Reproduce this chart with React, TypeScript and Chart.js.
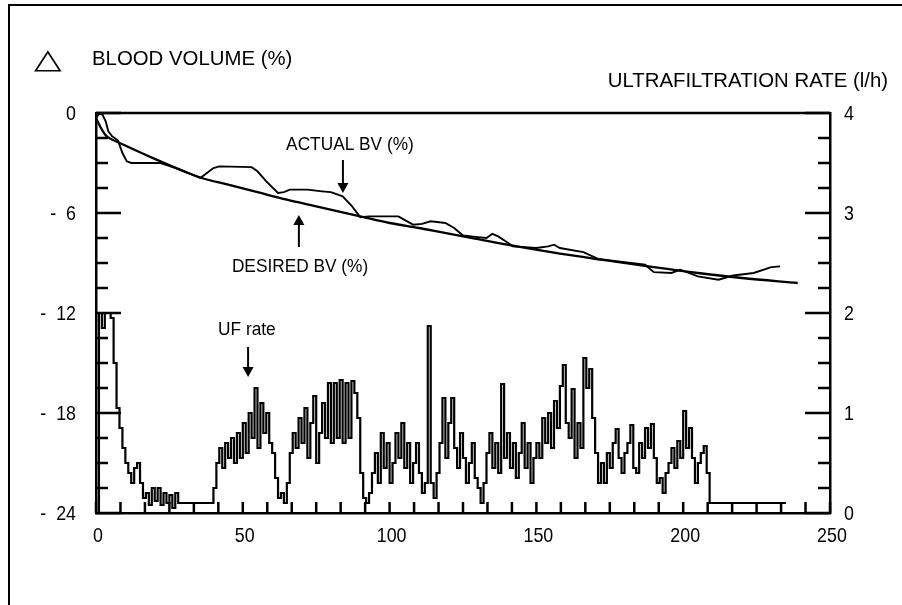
import React, { useEffect, useRef } from "react";
import { Chart, registerables } from "chart.js";

Chart.register(...registerables);

// ---------- data ----------
const desiredTime = [0, 2, 4, 10, 20, 30, 36, 45, 55, 65, 75, 90, 100, 110, 125, 140, 155, 172, 190, 205, 220, 239];
const desiredBV = [-0.3, -1.0, -1.45, -1.95, -2.75, -3.5, -3.9, -4.3, -4.75, -5.2, -5.6, -6.2, -6.6, -6.9, -7.4, -7.9, -8.35, -8.8, -9.25, -9.6, -9.9, -10.2];

const actualTime = [0, 1, 2.2, 3.3, 4.2, 5.5, 7.5, 9, 10.5, 12, 22, 28, 35.5, 37, 40, 42, 53, 55, 58, 62, 64, 66, 72, 77, 80, 84, 87, 90, 93, 103, 108, 111, 114, 119, 122, 125, 130, 133, 135, 137, 140, 142, 150, 154, 156, 158, 166, 171, 180, 187, 190, 196, 199, 205, 212, 217, 224, 230, 233];
const actualBV = [-0.3, -0.05, -0.1, -0.5, -1.1, -1.4, -1.65, -2.4, -2.9, -3.0, -3.0, -3.35, -3.9, -3.7, -3.3, -3.2, -3.25, -3.5, -4.1, -4.8, -4.75, -4.6, -4.6, -4.7, -4.75, -5.0, -5.55, -6.25, -6.2, -6.2, -6.7, -6.65, -6.5, -6.6, -6.9, -7.35, -7.45, -7.5, -7.25, -7.4, -7.75, -8.0, -8.1, -8.0, -7.9, -8.1, -8.35, -8.75, -8.95, -9.1, -9.55, -9.6, -9.4, -9.8, -10.0, -9.75, -9.6, -9.25, -9.2];

// UF rate (l/h), one sample per minute starting at minute 0
const ufRate = [
  0, 2.0, 1.85, 2.0, 2.0, 1.95, 1.5, 1.05, 0.85, 0.65,
  0.5, 0.4, 0.3, 0.45, 0.5, 0.3, 0.15, 0.2, 0.08, 0.25,
  0.12, 0.25, 0.08, 0.2, 0.1, 0.18, 0.05, 0.2, 0.1, 0.1,
  0.1, 0.1, 0.1, 0.1, 0.1, 0.1, 0.1, 0.1, 0.1, 0.1,
  0.25, 0.5, 0.65, 0.45, 0.7, 0.55, 0.75, 0.5, 0.8, 0.55,
  0.9, 0.6, 1.0, 0.75, 1.25, 0.65, 1.1, 0.8, 1.0, 0.7,
  0.6, 0.35, 0.15, 0.2, 0.1, 0.3, 0.6, 0.8, 0.65, 0.95,
  0.7, 1.05, 0.55, 0.9, 1.17, 0.5, 0.8, 1.1, 0.75, 1.3,
  0.7, 1.3, 0.75, 1.33, 0.7, 1.3, 0.75, 1.32, 1.2, 0.95,
  0.4, 0.15, 0.1, 0.2, 0.4, 0.6, 0.3, 0.8, 0.45, 0.7,
  0.3, 0.5, 0.8, 0.55, 0.9, 0.45, 0.7, 0.3, 0.5, 0.7,
  0.4, 0.2, 0.3, 1.87, 0.3, 0.15, 0.4, 0.7, 1.15, 0.55,
  0.9, 1.15, 0.65, 0.45, 0.8, 0.55, 0.3, 0.5, 0.7, 0.35,
  0.25, 0.1, 0.3, 0.6, 0.8, 0.45, 0.7, 0.4, 1.29, 0.55,
  0.8, 0.45, 0.7, 0.35, 0.6, 0.9, 0.45, 0.7, 0.3, 0.55,
  0.7, 0.55, 0.95, 0.7, 1.0, 0.65, 1.12, 0.85, 1.27, 1.48,
  0.9, 0.75, 1.24, 0.55, 0.9, 0.65, 1.55, 1.25, 1.44, 0.95,
  0.6, 0.3, 0.5, 0.3, 0.6, 0.45, 0.7, 0.84, 0.55, 0.4,
  0.6, 0.7, 0.88, 0.45, 0.4, 0.7, 0.55, 0.85, 0.65, 0.89,
  0.55, 0.3, 0.35, 0.2, 0.4, 0.5, 0.65, 0.45, 0.72, 0.55,
  1.02, 0.65, 0.85, 0.55, 0.3, 0.5, 0.6, 0.67, 0.4, 0.1,
  0.1, 0.1, 0.1, 0.1, 0.1, 0.1, 0.1, 0.1, 0.1, 0.1,
  0.1, 0.1, 0.1, 0.1, 0.1, 0.1, 0.1, 0.1, 0.1, 0.1,
  0.1, 0.1, 0.1, 0.1, 0.1, 0.1,
];

const xTickValues = [0, 50, 100, 150, 200, 250];
const leftTickValues = [0, -6, -12, -18, -24];
const rightTickValues = [0, 1, 2, 3, 4];

const leftTitle = "BLOOD VOLUME (%)";
const rightTitle = "ULTRAFILTRATION RATE (l/h)";

// annotation anchors (data coordinates)
const annotations = [
  { text: "ACTUAL BV (%)", axis: "y", tx: 86.5, ty: -1.92, ax: 84.1, from: -2.82, to: -4.8 },
  { text: "DESIRED BV (%)", axis: "y", tx: 69.5, ty: -9.24, ax: 69.1, from: -8.04, to: -6.12 },
  { text: "UF rate", axis: "y1", tx: 51.4, ty: 1.83, ax: 51.8, from: 1.66, to: 1.36 },
];

const FONT = "'Liberation Sans', Arial, sans-serif";

function condText(ctx: any, text: string, x: number, y: number, align: string, sx: number) {
  ctx.save();
  ctx.translate(x, y);
  ctx.scale(sx, 1);
  ctx.textAlign = align;
  ctx.fillText(text, 0, 0);
  ctx.restore();
}

const decorPlugin = {
  id: "decor",
  afterDatasetsDraw(chart: any) {
    const { ctx, chartArea, scales } = chart;
    const { left, right, top, bottom } = chartArea;
    ctx.save();
    ctx.strokeStyle = "#000";
    ctx.fillStyle = "#000";
    ctx.lineCap = "butt";

    // outer frame (top and left)
    ctx.lineWidth = 2;
    ctx.beginPath();
    ctx.moveTo(8, 5);
    ctx.lineTo(902, 5);
    ctx.moveTo(9, 5);
    ctx.lineTo(9, 605);
    ctx.stroke();

    // top border of plot
    ctx.lineWidth = 2.5;
    ctx.beginPath();
    ctx.moveTo(left, top);
    ctx.lineTo(right, top);
    ctx.stroke();

    // inward ticks
    ctx.lineWidth = 2.5;
    ctx.beginPath();
    const ys = scales.y;
    for (let i = 0; i <= 16; i++) {
      const v = -24 + i * 1.5;
      const py = ys.getPixelForValue(v);
      const len = i % 4 === 0 ? 25 : 12;
      ctx.moveTo(left, py);
      ctx.lineTo(left + len, py);
    }
    const yr = scales.y1;
    for (let i = 0; i <= 16; i++) {
      const v = i * 0.25;
      const py = yr.getPixelForValue(v);
      const len = i % 4 === 0 ? 25 : 12;
      ctx.moveTo(right, py);
      ctx.lineTo(right - len, py);
    }
    const xs = scales.x;
    for (let i = 0; i <= 30; i++) {
      const v = (i * 50) / 6;
      const px = xs.getPixelForValue(v);
      ctx.moveTo(px, bottom);
      ctx.lineTo(px, bottom - 11);
    }
    ctx.stroke();

    // tick labels (condensed)
    ctx.font = `21px ${FONT}`;
    ctx.textBaseline = "middle";
    for (const v of leftTickValues) {
      const t = v < 0 ? "-  " + Math.abs(v) : String(v);
      condText(ctx, t, left - 20, ys.getPixelForValue(v) + 1, "right", 0.85);
    }
    for (const v of rightTickValues) {
      condText(ctx, String(v), right + 14, yr.getPixelForValue(v) + 1, "left", 0.85);
    }
    for (const v of xTickValues) {
      condText(ctx, String(v), xs.getPixelForValue(v) + 2, bottom + 23, "center", 0.85);
    }

    // annotations
    ctx.font = `18px ${FONT}`;
    ctx.textBaseline = "middle";
    ctx.lineWidth = 2;
    for (const a of annotations) {
      const sc = scales[a.axis];
      condText(ctx, a.text, xs.getPixelForValue(a.tx), sc.getPixelForValue(a.ty), "center", 0.96);
      const px = xs.getPixelForValue(a.ax);
      const p0 = sc.getPixelForValue(a.from);
      const p1 = sc.getPixelForValue(a.to);
      const dir = p1 > p0 ? 1 : -1;
      ctx.beginPath();
      ctx.moveTo(px, p0);
      ctx.lineTo(px, p1 - dir * 8);
      ctx.stroke();
      ctx.beginPath();
      ctx.moveTo(px, p1);
      ctx.lineTo(px - 5.5, p1 - dir * 10);
      ctx.lineTo(px + 5.5, p1 - dir * 10);
      ctx.closePath();
      ctx.fill();
    }

    // titles
    ctx.textBaseline = "alphabetic";
    ctx.save();
    ctx.translate(34, 68);
    ctx.scale(1.2, 0.92);
    ctx.font = `30px 'DejaVu Sans', sans-serif`;
    ctx.textAlign = "left";
    ctx.fillText("\u25B3", 0, 0);
    ctx.restore();
    ctx.font = `21px ${FONT}`;
    condText(ctx, leftTitle, 92, 65, "left", 0.97);
    condText(ctx, rightTitle, 888, 87, "right", 0.97);
    ctx.restore();
  },
};

export default function App() {
  const ref = useRef<HTMLCanvasElement | null>(null);
  useEffect(() => {
    if (!ref.current) return;
    const chart = new Chart(ref.current, {
      type: "line",
      data: {
        datasets: [
          {
            label: "DESIRED BV (%)",
            data: desiredTime.map((x, i) => ({ x, y: desiredBV[i] })),
            yAxisID: "y",
            borderColor: "#000",
            borderWidth: 2.3,
            pointRadius: 0,
            tension: 0.35,
            fill: false,
          },
          {
            label: "ACTUAL BV (%)",
            data: actualTime.map((x, i) => ({ x, y: actualBV[i] })),
            yAxisID: "y",
            borderColor: "#000",
            borderWidth: 1.9,
            pointRadius: 0,
            tension: 0,
            fill: false,
          },
          {
            label: "UF rate",
            data: ufRate.map((y, i) => ({ x: i, y })),
            yAxisID: "y1",
            borderColor: "#000",
            borderWidth: 2.2,
            pointRadius: 0,
            stepped: true,
            fill: false,
          },
        ],
      },
      options: {
        animation: false,
        responsive: false,
        maintainAspectRatio: false,
        layout: { padding: { top: 113, left: 0, right: 0, bottom: 0 } },
        plugins: { legend: { display: false }, tooltip: { enabled: false }, title: { display: false } },
        scales: {
          x: {
            type: "linear",
            min: 0,
            max: 250,
            ticks: { display: false, stepSize: 50 },
            grid: { display: false, drawTicks: false },
            border: { display: true, color: "#000", width: 2.5 },
            afterFit: (s: any) => {
              s.height = 92;
            },
          },
          y: {
            type: "linear",
            position: "left",
            min: -24,
            max: 0,
            ticks: { display: false, stepSize: 6 },
            grid: { display: false, drawTicks: false },
            border: { display: true, color: "#000", width: 2.5 },
            afterFit: (s: any) => {
              s.width = 96;
            },
          },
          y1: {
            type: "linear",
            position: "right",
            min: 0,
            max: 4,
            ticks: { display: false, stepSize: 1 },
            grid: { display: false, drawTicks: false },
            border: { display: true, color: "#000", width: 2.5 },
            afterFit: (s: any) => {
              s.width = 72;
            },
          },
        },
      },
      plugins: [decorPlugin],
    } as any);
    return () => chart.destroy();
  }, []);
  return (
    <div style={{ position: "fixed", left: 0, top: 0, width: 902, height: 605, background: "#fff" }}>
      <canvas ref={ref} width={902} height={605} style={{ display: "block", width: 902, height: 605 }} />
    </div>
  );
}
